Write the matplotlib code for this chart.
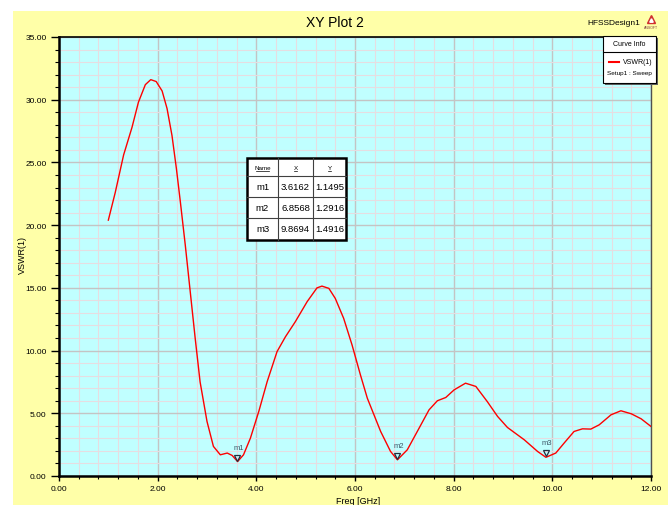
import matplotlib
matplotlib.use("Agg")
import matplotlib.pyplot as plt
from matplotlib.patches import Rectangle
from matplotlib.lines import Line2D
from matplotlib.ticker import MultipleLocator, FormatStrFormatter
from matplotlib.transforms import offset_copy

# ---------------- data ----------------
freq = [1.00, 1.14, 1.31, 1.48, 1.61, 1.75, 1.86, 1.97, 2.09, 2.19, 2.29, 2.38, 2.46,
        2.56, 2.66, 2.76, 2.86, 3.00, 3.13, 3.27, 3.41, 3.51, 3.62, 3.74, 3.88, 4.05,
        4.22, 4.42, 4.59, 4.79, 5.03, 5.23, 5.33, 5.47, 5.60, 5.77, 5.94, 6.11, 6.25,
        6.52, 6.72, 6.86, 7.06, 7.30, 7.50, 7.67, 7.84, 8.01, 8.24, 8.45, 8.68, 8.89,
        9.09, 9.43, 9.70, 9.87, 10.07, 10.24, 10.44, 10.61, 10.78, 10.95, 11.19, 11.39,
        11.60, 11.80, 12.00]
vswr = [20.4, 22.6, 25.6, 27.8, 29.8, 31.2, 31.6, 31.45, 30.7, 29.3, 27.15, 24.5, 21.85,
        18.4, 14.7, 11.0, 7.5, 4.35, 2.36, 1.69, 1.83, 1.64, 1.15, 1.69, 3.02, 5.15,
        7.53, 9.92, 11.1, 12.3, 13.9, 15.0, 15.14, 14.96, 14.16, 12.57, 10.45, 8.06, 6.2,
        3.55, 1.96, 1.29, 2.09, 3.82, 5.27, 6.0, 6.26, 6.87, 7.40, 7.14, 5.94, 4.75,
        3.87, 2.89, 1.96, 1.49, 1.83, 2.63, 3.55, 3.76, 3.74, 4.08, 4.88, 5.20,
        4.96, 4.56, 3.95]

marker_names = ["m1", "m2", "m3"]
marker_x = [3.6162, 6.8568, 9.8694]
marker_y = [1.1495, 1.2916, 1.4916]

x_ticks_max = 12.0
y_ticks_max = 35.0

FONT = ["Liberation Sans Narrow", "Liberation Sans", "DejaVu Sans"]
plt.rcParams["font.family"] = FONT

W, H = 668, 506
fig = plt.figure(figsize=(W / 100, H / 100), dpi=100, facecolor="white")


def fx(x):
    return x / W


def fy(y):
    return 1 - y / H


# yellow panel
fig.add_artist(Rectangle((fx(13), 0), 1 - fx(13), fy(12), transform=fig.transFigure,
                         facecolor="#ffffa8", edgecolor="none", zorder=-10))

L, R, T, B = 59, 651, 38, 477
ax = fig.add_axes([fx(L), fy(B), fx(R) - fx(L), fy(T) - fy(B)])
ax.set_facecolor("#c0ffff")

ax.plot(freq, vswr, color="#ff0000", lw=1.0, zorder=3)

ax.set_xlim(0, x_ticks_max)
ax.set_ylim(0, y_ticks_max)
ax.xaxis.set_major_locator(MultipleLocator(2))
ax.xaxis.set_minor_locator(MultipleLocator(0.4))
ax.yaxis.set_major_locator(MultipleLocator(5))
ax.yaxis.set_minor_locator(MultipleLocator(1))
ax.xaxis.set_major_formatter(FormatStrFormatter("%.2f"))
ax.yaxis.set_major_formatter(FormatStrFormatter("%.2f"))
ax.grid(which="major", color="#c4c4c4", lw=1.0, zorder=0)
ax.grid(which="minor", color="#e6dde1", lw=0.8, zorder=0)
ax.set_axisbelow(True)

ax.tick_params(axis="both", which="major", direction="out", length=6, width=1,
               labelsize=6, color="black", pad=3)
ax.tick_params(axis="both", which="minor", direction="out", length=3, width=0.8,
               color="black")
ax.tick_params(axis="x", which="major", length=3.5, pad=3)
ax.tick_params(axis="x", which="minor", length=2.5)

for side in ["left", "bottom"]:
    ax.spines[side].set_linewidth(1.8)
    ax.spines[side].set_color("black")
ax.spines["top"].set_linewidth(1.2)
ax.spines["top"].set_color("black")
ax.spines["right"].set_linewidth(1.0)
ax.spines["right"].set_color("#505050")

# markers
tri_tr = offset_copy(ax.transData, fig=fig, x=0, y=4, units="dots")
for name, mx, my in zip(marker_names, marker_x, marker_y):
    ax.plot([mx], [my], marker="v", markersize=4.5, markerfacecolor="none",
            markeredgecolor="#203040", markeredgewidth=0.9, transform=tri_tr,
            zorder=4)
    ax.annotate(name, (mx, my), xytext=(1, 11), textcoords="offset pixels",
                ha="center", va="bottom", fontsize=5.5, color="#405868", zorder=4)

# axis labels
fig.text(fx(22), fy(255), "VSWR(1)", rotation=90, ha="center", va="center",
         fontsize=6.5)
fig.text(fx(358), fy(497), "Freq [GHz]", ha="center", va="top", fontsize=6.5)

# title and design name
fig.text(fx(335), fy(23), "XY Plot 2", ha="center", va="center", fontsize=10)
fig.text(fx(614), fy(24), "HFSSDesign1", ha="center", va="center", fontsize=6)
fig.add_artist(Line2D([fx(651)], [fy(20)], marker="^", markersize=6,
                      color="#d03030", transform=fig.transFigure))
fig.add_artist(Line2D([fx(651)], [fy(21)], marker="^", markersize=2.5,
                      color="white", transform=fig.transFigure))
fig.text(fx(651), fy(28), "ANSOFT", ha="center", va="center", fontsize=2.5,
         color="#804040")

# curve info box
bx0, by0, bx1, by1 = 603, 37, 656, 84
fig.add_artist(Rectangle((fx(bx0 + 2), fy(by1 + 2)), fx(bx1 - bx0), fy(by0) - fy(by1),
                         transform=fig.transFigure, facecolor="#606060",
                         edgecolor="none", zorder=5))
fig.add_artist(Rectangle((fx(bx0), fy(by1)), fx(bx1 - bx0), fy(by0) - fy(by1),
                         transform=fig.transFigure, facecolor="white",
                         edgecolor="black", lw=0.8, zorder=6))
fig.add_artist(Line2D([fx(bx0), fx(bx1)], [fy(53), fy(53)], color="black", lw=0.8,
                      transform=fig.transFigure, zorder=7))
fig.text(fx((bx0 + bx1) / 2), fy(45), "Curve Info", ha="center", va="center",
         fontsize=5, zorder=7)
fig.add_artist(Line2D([fx(609), fx(619)], [fy(63), fy(63)], color="#ff0000", lw=1.5,
                      transform=fig.transFigure, zorder=7))
fig.text(fx(653), fy(63), "VSWR(1)", ha="right", va="center", fontsize=5, zorder=7)
fig.text(fx(629.5), fy(74), "Setup1 : Sweep", ha="center", va="center", fontsize=4.6,
         zorder=7)

# marker table
col_edges = [247, 278, 313, 346]
row_edges = [159, 177, 198, 219, 241]
tx0, tx1, ty0, ty1 = col_edges[0], col_edges[-1], row_edges[0], row_edges[-1]
fig.add_artist(Rectangle((fx(tx0), fy(ty1)), fx(tx1 - tx0), fy(ty0) - fy(ty1),
                         transform=fig.transFigure, facecolor="white",
                         edgecolor="black", lw=1.8, zorder=8))
for c in col_edges[1:-1]:
    fig.add_artist(Line2D([fx(c), fx(c)], [fy(ty0), fy(ty1)], color="#404040", lw=0.8,
                          transform=fig.transFigure, zorder=9))
for r in row_edges[1:-1]:
    fig.add_artist(Line2D([fx(tx0), fx(tx1)], [fy(r), fy(r)], color="#404040", lw=0.8,
                          transform=fig.transFigure, zorder=9))
headers = ["Name", "X", "Y"]
for i, h in enumerate(headers):
    cx = (col_edges[i] + col_edges[i + 1]) / 2
    cy = (row_edges[0] + row_edges[1]) / 2
    fig.text(fx(cx), fy(cy), h, ha="center", va="center", fontsize=4.5, zorder=10)
    uw = 6.5 if h == "Name" else 1.5
    fig.add_artist(Line2D([fx(cx - uw), fx(cx + uw)], [fy(cy + 4), fy(cy + 4)],
                          color="black", lw=0.5, transform=fig.transFigure, zorder=10))
for j, (name, mx, my) in enumerate(zip(marker_names, marker_x, marker_y)):
    cy = (row_edges[j + 1] + row_edges[j + 2]) / 2
    vals = [name, f"{mx:.4f}", f"{my:.4f}"]
    for i, v in enumerate(vals):
        cx = (col_edges[i] + col_edges[i + 1]) / 2
        fig.text(fx(cx), fy(cy), v, ha="center", va="center", fontsize=6.8, zorder=10)

fig.savefig("out.png", dpi=100, facecolor="white")
